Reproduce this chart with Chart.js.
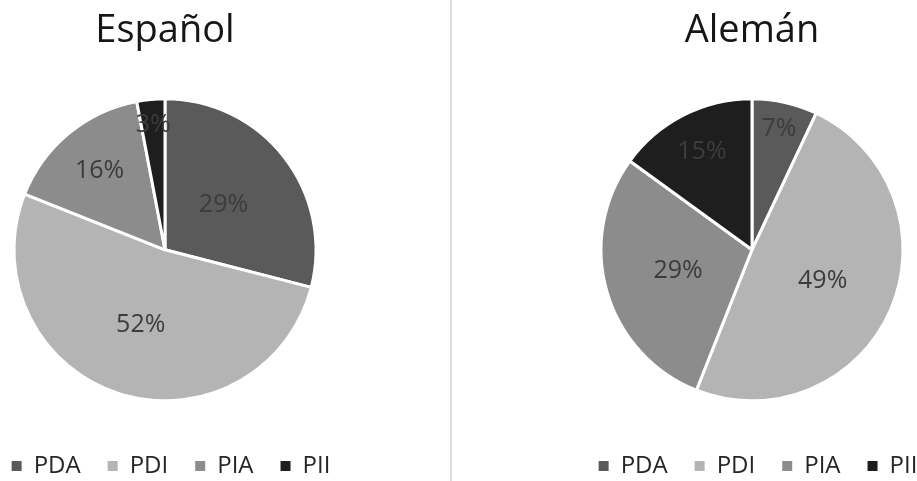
<!DOCTYPE html>
<html>
<head>
<meta charset="utf-8">
<script src="https://cdn.jsdelivr.net/npm/chart.js@4/dist/chart.umd.min.js"></script>
<style>
  html, body { margin: 0; padding: 0; background: #ffffff; overflow: hidden; }
  body { width: 917px; height: 481px; position: relative; }
  canvas { position: absolute; top: 0; }
  #esp { left: -35px; }
  #ale { left: 552px; }
  .divider { position: absolute; left: 450px; top: 0; width: 2px; height: 481px; background: #dcdcdc; }
</style>
</head>
<body>
<canvas id="esp" width="400" height="488"></canvas>
<div class="divider"></div>
<canvas id="ale" width="400" height="488"></canvas>
<script>
// Categories shared by both pies
const categories = ['PDA', 'PDI', 'PIA', 'PII'];

// Percentage shares per language
const espanolValues = [29, 52, 16, 3];
const alemanValues = [7, 49, 29, 15];

// Chart titles
const espanolTitle = 'Español';
const alemanTitle = 'Alemán';

// Slice fills (grayscale palette)
const sliceColors = ['#5a5a5a', '#b4b4b4', '#8c8c8c', '#1e1e1e'];

// Radial placement of each percentage label, as a fraction of the pie radius
const espanolLabelRadius = [0.49, 0.52, 0.68, 0.83];
const alemanLabelRadius = [0.82, 0.51, 0.51, 0.73];

const FONT = '"Open Sans", "Noto Sans", sans-serif';

// Draws "NN%" inside each slice at the configured radial fraction
const sliceLabels = {
  id: 'sliceLabels',
  afterDatasetsDraw(chart, args, opts) {
    const ctx = chart.ctx;
    const meta = chart.getDatasetMeta(0);
    const values = chart.data.datasets[0].data;
    ctx.save();
    ctx.font = '25px ' + FONT;
    ctx.fillStyle = '#3c3c3c';
    ctx.textAlign = 'center';
    ctx.textBaseline = 'middle';
    meta.data.forEach((arc, i) => {
      const p = arc.getProps(['x', 'y', 'startAngle', 'endAngle', 'outerRadius'], true);
      const mid = (p.startAngle + p.endAngle) / 2;
      const r = p.outerRadius * opts.radius[i];
      ctx.fillText(values[i] + '%', p.x + Math.cos(mid) * r, p.y + Math.sin(mid) * r);
    });
    ctx.restore();
  }
};

// Nudges the legend row sideways after layout
const legendNudge = {
  id: 'legendNudge',
  afterLayout(chart, args, opts) {
    const lg = chart.legend;
    if (lg) { lg.left += opts.dx; lg.right += opts.dx; }
  }
};

function makePie(canvasId, title, values, labelRadius) {
  return new Chart(document.getElementById(canvasId), {
    type: 'pie',
    data: {
      labels: categories,
      datasets: [{
        data: values,
        backgroundColor: sliceColors,
        borderColor: '#ffffff',
        borderWidth: 3
      }]
    },
    options: {
      responsive: false,
      animation: false,
      radius: 151,
      layout: { padding: 0 },
      plugins: {
        title: {
          display: true,
          text: title,
          color: '#161616',
          font: { family: FONT, size: 38, weight: 'normal' },
          padding: { top: 8, bottom: 19 }
        },
        legend: {
          display: true,
          position: 'bottom',
          labels: {
            color: '#262626',
            font: { family: FONT, size: 24 },
            boxWidth: 10,
            boxHeight: 10,
            padding: 27,
            generateLabels(chart) {
              const items = Chart.overrides.pie.plugins.legend.labels.generateLabels(chart);
              return items.map(it => Object.assign(it, { lineWidth: 0 }));
            }
          }
        },
        tooltip: { enabled: false },
        sliceLabels: { radius: labelRadius },
        legendNudge: { dx: 6 }
      }
    },
    plugins: [sliceLabels, legendNudge]
  });
}

makePie('esp', espanolTitle, espanolValues, espanolLabelRadius);
makePie('ale', alemanTitle, alemanValues, alemanLabelRadius);
</script>
</body>
</html>
